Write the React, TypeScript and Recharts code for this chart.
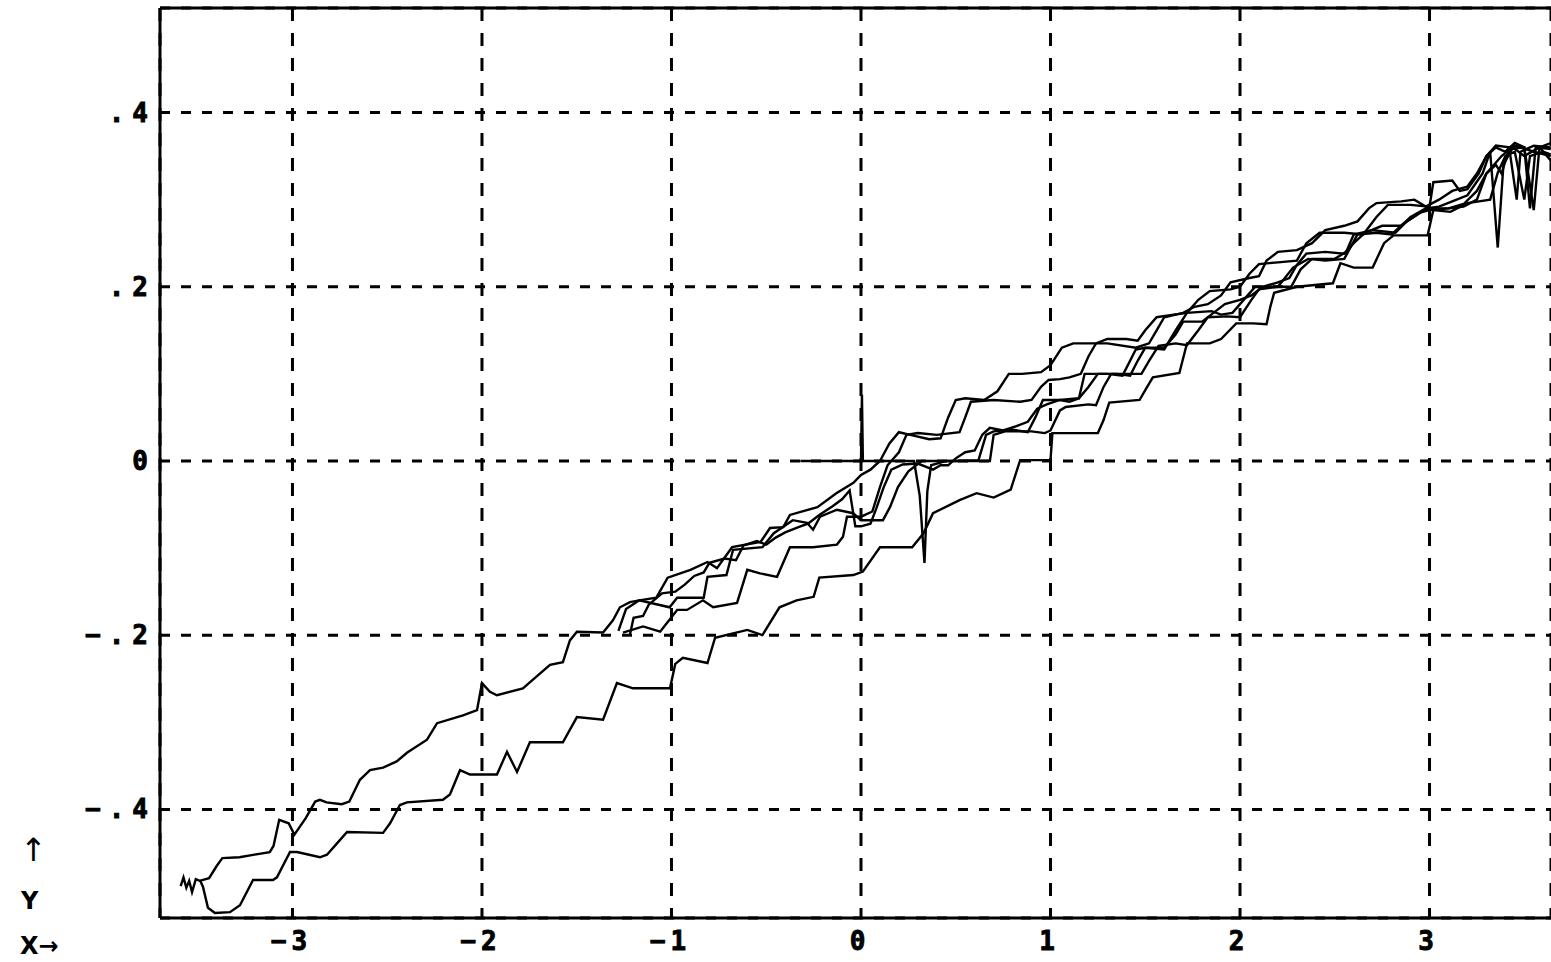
import React from 'react';
import { LineChart, Line, XAxis, YAxis, CartesianGrid, ReferenceLine } from 'recharts';

const xTicks = [-3, -2, -1, 0, 1, 2, 3];
const xTickLabels = ['−3', '−2', '−1', '0', '1', '2', '3'];
const yTicks = [-0.4, -0.2, 0, 0.2, 0.4];
const yTickLabels = ['−.4', '−.2', '0', '.2', '.4'];
const xDomain: [number, number] = [-3.699, 3.641];
const yDomain: [number, number] = [-0.5247, 0.52];

type P = [number, number];

const seriesA: P[] = [
  [-3.59, -0.488], [-3.575, -0.478], [-3.56, -0.49], [-3.545, -0.482], [-3.53, -0.495], [-3.51, -0.48],
  [-3.49, -0.482], [-3.44, -0.479], [-3.4, -0.465], [-3.37, -0.456], [-3.28, -0.455], [-3.2, -0.452],
  [-3.12, -0.449], [-3.1, -0.442], [-3.07, -0.412], [-3.02, -0.416], [-2.99, -0.429], [-2.93, -0.41],
  [-2.88, -0.391], [-2.855, -0.389], [-2.82, -0.392], [-2.74, -0.394], [-2.7, -0.391], [-2.644, -0.366],
  [-2.591, -0.355], [-2.522, -0.352], [-2.45, -0.345], [-2.396, -0.335], [-2.29, -0.32], [-2.237, -0.301],
  [-2.1, -0.292], [-2.026, -0.286], [-2.0, -0.255], [-1.958, -0.265], [-1.921, -0.269], [-1.784, -0.261],
  [-1.731, -0.251], [-1.641, -0.234], [-1.573, -0.231], [-1.536, -0.206], [-1.499, -0.196], [-1.361, -0.197],
  [-1.309, -0.183], [-1.272, -0.168], [-1.219, -0.162], [-1.17, -0.16], [-1.08, -0.157], [-1.02, -0.134],
  [-0.9, -0.125], [-0.81, -0.116], [-0.76, -0.123], [-0.68, -0.099], [-0.53, -0.093], [-0.48, -0.077],
  [-0.41, -0.076], [-0.375, -0.062], [-0.23, -0.053], [-0.13, -0.037], [-0.04, -0.025], [0.0, -0.016],
  [0.05, -0.01], [0.1, 0.0], [0.15, 0.02], [0.2, 0.033], [0.26, 0.03], [0.36, 0.025], [0.42, 0.026],
  [0.46, 0.05], [0.5, 0.07], [0.55, 0.072], [0.65, 0.07], [0.72, 0.08], [0.78, 0.1], [0.85, 0.1],
  [0.95, 0.102], [1.0, 0.11], [1.06, 0.13], [1.12, 0.135], [1.3, 0.135], [1.45, 0.13], [1.52, 0.135],
  [1.56, 0.15], [1.6, 0.165], [1.7, 0.17], [1.76, 0.177], [1.83, 0.18], [1.9, 0.19], [1.95, 0.205],
  [2.05, 0.21], [2.1, 0.212], [2.14, 0.23], [2.2, 0.24], [2.3, 0.242], [2.38, 0.25], [2.45, 0.265],
  [2.55, 0.27], [2.62, 0.275], [2.68, 0.29], [2.72, 0.296], [2.85, 0.298], [2.92, 0.3], [2.98, 0.292],
  [3.05, 0.3], [3.12, 0.31], [3.2, 0.315], [3.25, 0.33], [3.3, 0.35], [3.35, 0.362], [3.42, 0.36],
  [3.46, 0.3], [3.48, 0.355], [3.55, 0.362], [3.64, 0.36],
];

const seriesB: P[] = [
  [-3.488, -0.481], [-3.472, -0.489], [-3.446, -0.513], [-3.409, -0.519], [-3.33, -0.518], [-3.277, -0.51],
  [-3.208, -0.481], [-3.103, -0.481], [-3.082, -0.478], [-3.013, -0.449], [-2.976, -0.449], [-2.855, -0.455],
  [-2.818, -0.452], [-2.765, -0.439], [-2.712, -0.426], [-2.522, -0.427], [-2.485, -0.416], [-2.433, -0.395],
  [-2.396, -0.392], [-2.206, -0.389], [-2.169, -0.383], [-2.116, -0.355], [-2.063, -0.36], [-1.921, -0.36],
  [-1.868, -0.334], [-1.815, -0.357], [-1.747, -0.323], [-1.573, -0.323], [-1.499, -0.294], [-1.361, -0.297],
  [-1.288, -0.255], [-1.203, -0.261], [-1.008, -0.261], [-0.98, -0.233], [-0.94, -0.226], [-0.81, -0.232],
  [-0.77, -0.203], [-0.6, -0.194], [-0.52, -0.2], [-0.43, -0.168], [-0.34, -0.16], [-0.25, -0.156],
  [-0.22, -0.134], [-0.04, -0.131], [0.01, -0.127], [0.1, -0.099], [0.27, -0.099], [0.33, -0.083],
  [0.38, -0.06], [0.52, -0.045], [0.61, -0.037], [0.7, -0.042], [0.79, -0.033], [0.84, 0.001],
  [1.0, 0.001], [1.01, 0.032], [1.25, 0.032], [1.28, 0.047], [1.31, 0.067], [1.47, 0.07], [1.51, 0.085],
  [1.54, 0.096], [1.68, 0.101], [1.72, 0.135], [1.84, 0.135], [1.9, 0.14], [1.98, 0.158], [2.07, 0.158],
  [2.14, 0.157], [2.16, 0.177], [2.18, 0.193], [2.3, 0.2], [2.49, 0.204], [2.53, 0.227], [2.6, 0.222],
  [2.7, 0.222], [2.76, 0.25], [2.81, 0.259], [2.99, 0.259], [3.02, 0.288], [3.11, 0.286], [3.2, 0.296],
  [3.32, 0.3], [3.36, 0.331], [3.4, 0.35], [3.45, 0.355], [3.5, 0.3], [3.53, 0.35], [3.6, 0.355], [3.64, 0.352],
];

const seriesC: P[] = [
  [-1.28, -0.195], [-1.24, -0.17], [-1.17, -0.16], [-1.01, -0.168], [-0.97, -0.157], [-0.83, -0.157],
  [-0.81, -0.133], [-0.71, -0.131], [-0.675, -0.102], [-0.52, -0.099], [-0.46, -0.083], [-0.36, -0.068],
  [-0.285, -0.071], [-0.253, -0.079], [-0.216, -0.064], [-0.127, -0.056], [-0.042, -0.06], [0.0, -0.068],
  [0.116, -0.068], [0.153, -0.053], [0.195, -0.03], [0.25, -0.012], [0.32, 0.0], [0.5, 0.0], [0.62, 0.001],
  [0.66, 0.03], [0.7, 0.034], [0.8, 0.036], [0.88, 0.033], [0.92, 0.05], [0.96, 0.07], [1.05, 0.07],
  [1.1, 0.068], [1.15, 0.072], [1.18, 0.1], [1.3, 0.1], [1.38, 0.098], [1.45, 0.128], [1.5, 0.13],
  [1.6, 0.128], [1.66, 0.15], [1.72, 0.17], [1.85, 0.172], [1.9, 0.168], [1.96, 0.17], [2.0, 0.18],
  [2.08, 0.2], [2.2, 0.2], [2.28, 0.222], [2.36, 0.232], [2.45, 0.23], [2.55, 0.232], [2.62, 0.26],
  [2.72, 0.262], [2.8, 0.26], [2.86, 0.272], [2.95, 0.285], [3.0, 0.29], [3.1, 0.29], [3.18, 0.295],
  [3.25, 0.31], [3.3, 0.33], [3.35, 0.34], [3.38, 0.33], [3.42, 0.358], [3.5, 0.36], [3.55, 0.288],
  [3.58, 0.36], [3.64, 0.365],
];

const seriesD: P[] = [
  [-1.256, -0.197], [-1.15, -0.19], [-1.06, -0.196], [-1.024, -0.186], [-0.97, -0.171], [-0.918, -0.171],
  [-0.834, -0.16], [-0.78, -0.168], [-0.654, -0.163], [-0.6, -0.125], [-0.533, -0.129], [-0.443, -0.133],
  [-0.375, -0.099], [-0.253, -0.099], [-0.127, -0.096], [-0.095, -0.087], [-0.074, -0.064], [0.0, -0.064],
  [0.06, -0.058], [0.1, -0.03], [0.14, -0.005], [0.2, 0.01], [0.24, 0.03], [0.3, 0.032], [0.4, 0.03],
  [0.52, 0.033], [0.55, 0.05], [0.58, 0.068], [0.7, 0.07], [0.84, 0.068], [0.9, 0.07], [0.95, 0.085],
  [0.99, 0.093], [1.05, 0.094], [1.1, 0.096], [1.16, 0.1], [1.2, 0.12], [1.24, 0.135], [1.3, 0.14],
  [1.4, 0.14], [1.46, 0.138], [1.5, 0.15], [1.56, 0.165], [1.65, 0.168], [1.72, 0.17], [1.78, 0.185],
  [1.84, 0.195], [1.95, 0.197], [2.0, 0.2], [2.05, 0.215], [2.1, 0.226], [2.2, 0.228], [2.3, 0.23],
  [2.35, 0.25], [2.42, 0.262], [2.55, 0.262], [2.65, 0.26], [2.72, 0.28], [2.78, 0.294], [2.9, 0.294],
  [3.0, 0.292], [3.02, 0.32], [3.12, 0.322], [3.16, 0.31], [3.2, 0.312], [3.26, 0.33], [3.3, 0.35],
  [3.35, 0.36], [3.4, 0.355], [3.45, 0.365], [3.5, 0.36], [3.53, 0.29], [3.56, 0.36], [3.64, 0.358],
];

const seriesE: P[] = [
  [-1.22, -0.2], [-1.2, -0.18], [-1.15, -0.178], [-1.12, -0.165], [-1.05, -0.152], [-0.98, -0.15],
  [-0.93, -0.142], [-0.88, -0.132], [-0.83, -0.128], [-0.8, -0.117], [-0.72, -0.112], [-0.66, -0.114],
  [-0.62, -0.097], [-0.55, -0.092], [-0.5, -0.096], [-0.45, -0.088], [-0.4, -0.082], [-0.33, -0.076],
  [-0.28, -0.072], [-0.22, -0.062], [-0.15, -0.052], [-0.1, -0.044], [-0.06, -0.034], [-0.03, -0.075],
  [0.0, -0.075], [0.05, -0.072], [0.08, -0.055], [0.12, -0.03], [0.16, -0.01], [0.22, -0.004],
  [0.3, -0.003], [0.38, -0.01], [0.42, -0.005], [0.46, -0.005], [0.5, 0.003], [0.55, 0.01], [0.6, 0.012],
  [0.64, 0.03], [0.68, 0.038], [0.75, 0.035], [0.82, 0.04], [0.88, 0.045], [0.93, 0.06], [0.98, 0.065],
  [1.05, 0.07], [1.15, 0.072], [1.2, 0.085], [1.25, 0.1], [1.35, 0.1], [1.42, 0.098], [1.46, 0.115],
  [1.5, 0.13], [1.6, 0.13], [1.66, 0.145], [1.7, 0.16], [1.8, 0.16], [1.86, 0.17], [1.92, 0.18],
  [2.0, 0.185], [2.06, 0.19], [2.12, 0.2], [2.2, 0.205], [2.26, 0.21], [2.3, 0.225], [2.35, 0.238],
  [2.45, 0.24], [2.55, 0.238], [2.6, 0.25], [2.66, 0.262], [2.75, 0.27], [2.85, 0.27], [2.9, 0.28],
  [2.98, 0.29], [3.05, 0.292], [3.12, 0.298], [3.2, 0.305], [3.28, 0.33], [3.32, 0.355], [3.36, 0.245],
  [3.39, 0.34], [3.44, 0.36], [3.5, 0.35], [3.58, 0.36], [3.64, 0.345],
];

const seriesF: P[] = [
  [-0.32, 0.0], [0.0, 0.0], [0.005, 0.076], [0.01, 0.0], [0.28, 0.0], [0.31, -0.04], [0.335, -0.117],
  [0.35, -0.035], [0.37, -0.005], [0.45, 0.0], [0.68, 0.0], [0.7, 0.03], [0.76, 0.034], [0.9, 0.034],
  [0.97, 0.032], [1.0, 0.035], [1.05, 0.058], [1.08, 0.062], [1.2, 0.065], [1.24, 0.064], [1.28, 0.085],
  [1.32, 0.1], [1.4, 0.1], [1.48, 0.1], [1.52, 0.115], [1.57, 0.132], [1.66, 0.135], [1.72, 0.133],
  [1.78, 0.15], [1.83, 0.165], [1.93, 0.166], [2.0, 0.165], [2.06, 0.185], [2.1, 0.197], [2.2, 0.2],
  [2.27, 0.2], [2.32, 0.22], [2.38, 0.232], [2.5, 0.232], [2.56, 0.24], [2.6, 0.26], [2.7, 0.265],
  [2.82, 0.262], [2.88, 0.275], [2.95, 0.285], [3.0, 0.288], [3.1, 0.29], [3.18, 0.292], [3.25, 0.3],
  [3.3, 0.33], [3.38, 0.35], [3.45, 0.362], [3.55, 0.355], [3.64, 0.35],
];

const allSeries = [seriesA, seriesB, seriesC, seriesD, seriesE, seriesF];
const toPts = (s: P[]) => s.map(([x, y]) => ({ x, y }));

const FONT = '"DejaVu Sans Mono", monospace';

const XTick = (props: any) => {
  const { x, y, payload } = props;
  const i = xTicks.indexOf(payload.value);
  return (
    <text x={x - 1} y={y + 24} textAnchor="middle" fontFamily={FONT} fontWeight="bold" fontSize={26}
      fill="#000" stroke="#000" strokeWidth={0.9} letterSpacing={5}>
      {i >= 0 ? xTickLabels[i] : ''}
    </text>
  );
};

const YTick = (props: any) => {
  const { x, y, payload } = props;
  const idx = yTicks.findIndex((t) => Math.abs(t - payload.value) < 1e-9);
  return (
    <text x={x + 4} y={y + 9} textAnchor="end" fontFamily={FONT} fontWeight="bold" fontSize={26}
      fill="#000" stroke="#000" strokeWidth={0.9} letterSpacing={8}>
      {idx >= 0 ? yTickLabels[idx] : ''}
    </text>
  );
};

const labelStyle: React.CSSProperties = {
  position: 'absolute',
  fontFamily: '"DejaVu Sans", sans-serif',
  fontWeight: 'bold',
  fontSize: 24,
  lineHeight: '24px',
  color: '#000',
  whiteSpace: 'nowrap',
};

export default function App() {
  return (
    <div style={{ position: 'fixed', left: 0, top: 0, width: 1551, height: 962, background: '#fff', overflow: 'hidden' }}>
      <LineChart width={1551} height={962} margin={{ top: 8, right: 0, bottom: 0, left: 0 }}>
        <CartesianGrid horizontal={true} vertical={false} stroke="#000" strokeWidth={3} strokeDasharray="10 11" />
        <CartesianGrid horizontal={false} vertical={true} stroke="#000" strokeWidth={3} strokeDasharray="13 12" />
        <XAxis
          type="number"
          dataKey="x"
          domain={xDomain}
          ticks={xTicks}
          allowDataOverflow
          height={44}
          axisLine={{ stroke: '#000', strokeWidth: 3 }}
          tickLine={false}
          tick={<XTick />}
          interval={0}
        />
        <YAxis
          type="number"
          dataKey="y"
          domain={yDomain}
          ticks={yTicks}
          allowDataOverflow
          width={160}
          axisLine={{ stroke: '#000', strokeWidth: 3 }}
          tickLine={false}
          tick={<YTick />}
          interval={0}
        />
        <ReferenceLine y={yDomain[1]} stroke="#000" strokeWidth={3} />
        {allSeries.map((s, i) => (
          <Line
            key={i}
            data={toPts(s)}
            dataKey="y"
            type="linear"
            stroke="#000"
            strokeWidth={2.4}
            dot={false}
            activeDot={false}
            isAnimationActive={false}
          />
        ))}
      </LineChart>
      <div style={{ ...labelStyle, left: 20, top: 834, fontSize: 32, lineHeight: '32px', fontWeight: 'normal' }}>↑</div>
      <div style={{ ...labelStyle, left: 21, top: 889 }}>Y</div>
      <div style={{ ...labelStyle, left: 20, top: 934 }}>X→</div>
    </div>
  );
}
